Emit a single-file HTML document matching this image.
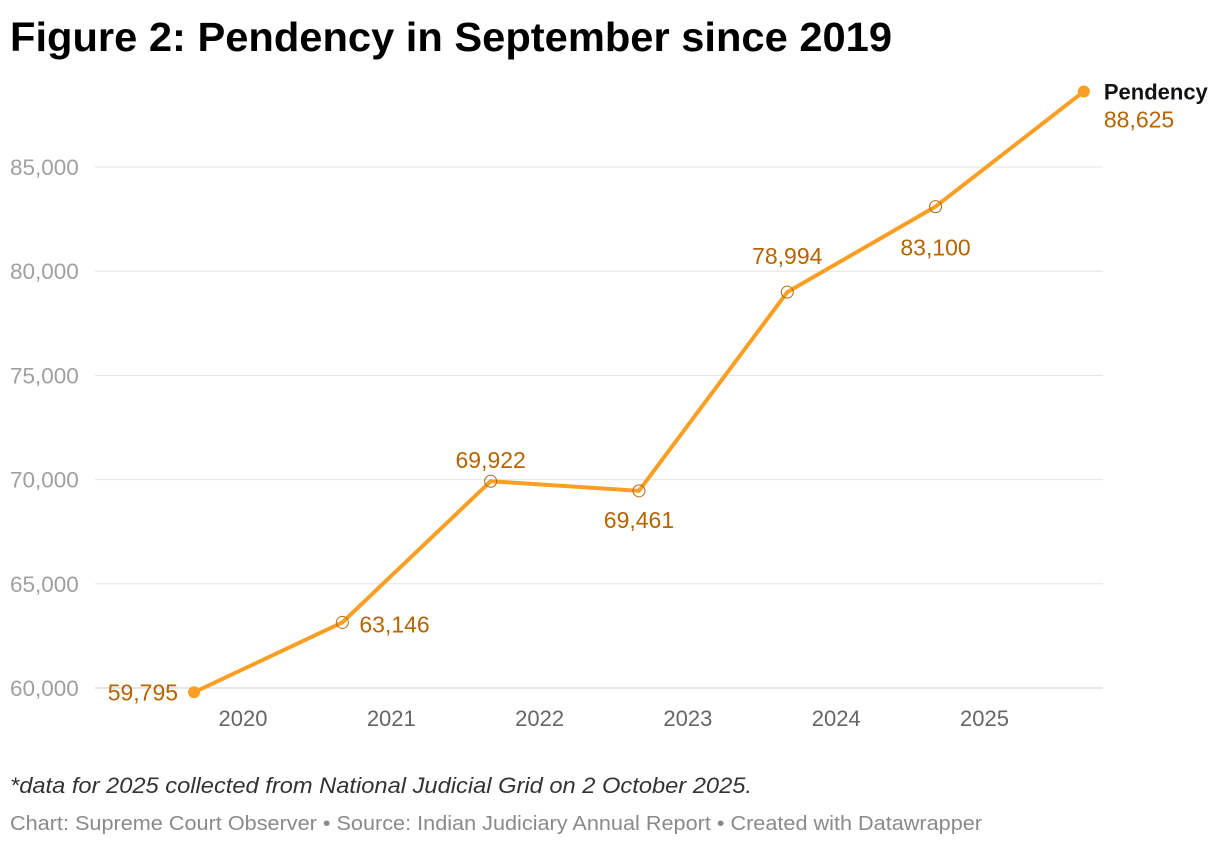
<!DOCTYPE html>
<html><head><meta charset="utf-8"><style>
body{margin:0;width:1220px;height:846px;background:#fff;font-family:"Liberation Sans",sans-serif;overflow:hidden}
svg{position:absolute;left:0;top:0}
</style></head><body>
<svg id="chart" width="1220" height="846">
<text x="10" y="51" font-size="41" font-weight="bold" fill="#000" textLength="882" lengthAdjust="spacingAndGlyphs">Figure 2: Pendency in September since 2019</text>
<g id="grid"></g><g id="series"></g>
<text x="10" y="793" font-size="22" font-style="italic" fill="#333" textLength="742" lengthAdjust="spacingAndGlyphs">*data for 2025 collected from National Judicial Grid on 2 October 2025.</text>
<text x="10" y="830" font-size="20" fill="#8a8a8a" textLength="972" lengthAdjust="spacingAndGlyphs">Chart: Supreme Court Observer • Source: Indian Judiciary Annual Report • Created with Datawrapper</text>
</svg>
<script>
const dates=[2019.67,2020.67,2021.67,2022.67,2023.67,2024.67,2025.67];
const values=[59795,63146,69922,69461,78994,83100,88625];
const labels=["59,795","63,146","69,922","69,461","78,994","83,100","88,625"];
const yTicks=[60000,65000,70000,75000,80000,85000];
const yTickLabels=["60,000","65,000","70,000","75,000","80,000","85,000"];
const xTicks=[2020,2021,2022,2023,2024,2025];
const NS="http://www.w3.org/2000/svg";
const x=t=>243+(t-2020)*148.3;
const y=v=>688-(v-60000)/5000*104.2;
function mk(tag,attrs,parent,text){const e=document.createElementNS(NS,tag);for(const k in attrs)e.setAttribute(k,attrs[k]);if(text!==undefined)e.textContent=text;parent.appendChild(e);return e;}
const grid=document.getElementById('grid'),ser=document.getElementById('series');
yTicks.forEach((v,i)=>{
 const l=mk('line',{x1:95,x2:1103,y1:y(v),y2:y(v),stroke:i===0?'#ccc':'#e3e3e3','stroke-width':1},grid);
 
 
 const t=mk('text',{x:10,y:y(v)+8,'font-size':22.5,fill:'#a0a0a0'},grid,yTickLabels[i]);
 
 
});
xTicks.forEach(yr=>{
 const t=mk('text',{x:x(yr),y:726,'font-size':22,fill:'#666','text-anchor':'middle'},grid,String(yr));
 
 
});
const pl=mk('polyline',{points:dates.map((d,i)=>x(d)+','+y(values[i])).join(' '),fill:'none',stroke:'#fa9f24','stroke-width':4,'stroke-linejoin':'round'},ser);


const pos=[['end',-16,8],['start',17,10],['middle',0,-13],['middle',0,37],['middle',0,-28],['middle',0,49],['start',20,36]];
dates.forEach((d,i)=>{
 const end=i===0||i===dates.length-1;
 const c=mk('circle',{cx:x(d),cy:y(values[i]),r:6,fill:end?'#fa9f24':'none',stroke:end?'none':'#b06a10','stroke-width':1},ser);
 
 
 const p=pos[i];
 const t=mk('text',{x:x(d)+p[1],y:y(values[i])+p[2],'font-size':23,fill:'#b56400','text-anchor':p[0]},ser,labels[i]);
 
 
});
const ln=dates.length-1;
const lg=mk('text',{x:x(dates[ln])+20,y:y(values[ln])+8,'font-size':22,'font-weight':'bold',fill:'#111'},ser,'Pendency');


</script>
</body></html>
